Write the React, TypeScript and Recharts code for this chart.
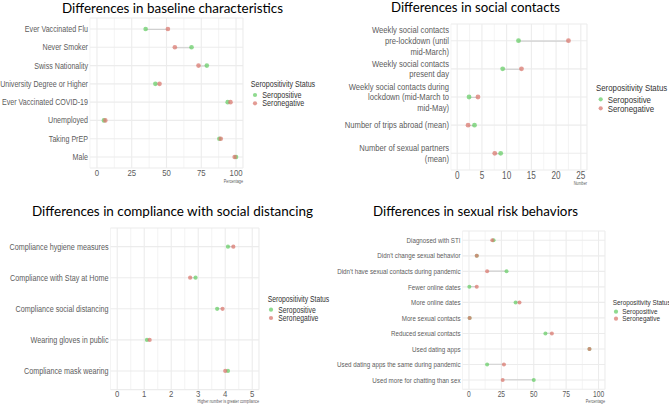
import React from 'react';
import { ComposedChart, Bar, Line, XAxis, YAxis, CartesianGrid } from 'recharts';

// --- data -------------------------------------------------------------

const baselineLabels = [
  'Ever Vaccinated Flu',
  'Never Smoker',
  'Swiss Nationality',
  'University Degree or Higher',
  'Ever Vaccinated COVID-19',
  'Unemployed',
  'Taking PrEP',
  'Male',
];
const baselinePos = [35, 68, 79, 42, 94, 5, 88, 100];
const baselineNeg = [51, 56, 73, 45, 96, 6, 89, 99];

const socialLabels = [
  'Weekly social contacts\npre-lockdown (until\nmid-March)',
  'Weekly social contacts\npresent day',
  'Weekly social contacts during\nlockdown (mid-March to\nmid-May)',
  'Number of trips abroad (mean)',
  'Number of sexual partners\n(mean)',
];
const socialPos = [12.4, 9.2, 2.4, 3.5, 8.8];
const socialNeg = [22.5, 13, 4.2, 2.2, 7.6];

const complianceLabels = [
  'Compliance hygiene measures',
  'Compliance with Stay at Home',
  'Compliance social distancing',
  'Wearing gloves in public',
  'Compliance mask wearing',
];
const compliancePos = [4.1, 2.9, 3.7, 1.1, 4.1];
const complianceNeg = [4.3, 2.7, 3.9, 1.2, 4.0];

const sexualLabels = [
  'Diagnosed with STI',
  "Didn't change sexual behavior",
  "Didn't have sexual contacts during pandemic",
  'Fewer online dates',
  'More online dates',
  'More sexual contacts',
  'Reduced sexual contacts',
  'Used dating apps',
  'Used dating apps the same during pandemic',
  'Used more for chatting than sex',
];
const sexualPos = [19, 6, 29, 0.3, 36, 0.5, 59, 93, 14, 50];
const sexualNeg = [18, 6, 14, 6, 39, 0.5, 64, 93, 27, 26];

// major ticks at even index, minor grid lines in between
const percentTicks = [0, 12.5, 25, 37.5, 50, 62.5, 75, 87.5, 100];
const numberTicks = [0, 2.5, 5, 7.5, 10, 12.5, 15, 17.5, 20, 22.5, 25];
const scoreTicks = [0, 0.5, 1, 1.5, 2, 2.5, 3, 3.5, 4, 4.5, 5];

const seriesNames = ['Seropositive', 'Seronegative'];

// --- style ------------------------------------------------------------

const GREEN = '#6acd6a';
const RED = '#d97a70';
const DOT_OPACITY = 0.75;
const GRID = '#ececec';
const SEGMENT = '#d0d0d0';
const AXIS_TEXT = '#5c5c5c';
// no narrow face installed: Arial-metric font squeezed horizontally
const SANS = "'Liberation Sans', Arimo, Arial, sans-serif";
const SQUEEZE = 0.82;
const TITLE_FONT = "Lato, 'Open Sans', sans-serif";

interface Box { left: number; top: number; width: number; height: number }
interface Plot { left: number; right: number; top: number; bottom: number }

interface PanelSpec {
  key: string;
  title: string;
  labels: string[];
  pos: number[];
  neg: number[];
  ticks: number[];
  domain: [number, number];
  box: Box;
  plot: Plot;
  pad: number;
  yFont: number;
  yLine: number;
  xFont: number;
  xDy: number;
  dotR: number;
  titleAt: { x: number; w: number; baseline: number };
  axisTitle: { text: string; y: number };
  legend: { x: number; y: number; dotX: number; textX: number; rows: number[]; size: number };
}

const panels: PanelSpec[] = [
  {
    key: 'baseline',
    title: 'Differences in baseline characteristics',
    labels: baselineLabels,
    pos: baselinePos,
    neg: baselineNeg,
    ticks: percentTicks,
    domain: [-5, 105],
    box: { left: 0, top: 0, width: 335, height: 200 },
    plot: { left: 90, right: 243, top: 18, bottom: 168 },
    pad: 1.9,
    yFont: 8.7,
    yLine: 10,
    xFont: 9.5,
    xDy: 5,
    dotR: 2.3,
    titleAt: { x: 62, w: 221, baseline: 12.5 },
    axisTitle: { text: 'Percentage', y: 181.5 },
    legend: { x: 250.7, y: 84.3, dotX: 255, textX: 262.3, rows: [95, 103.3], size: 8.7 },
  },
  {
    key: 'social',
    title: 'Differences in social contacts',
    labels: socialLabels,
    pos: socialPos,
    neg: socialNeg,
    ticks: numberTicks,
    domain: [-1.25, 26.25],
    box: { left: 335, top: 0, width: 334, height: 200 },
    plot: { left: 451, right: 587, top: 24, bottom: 170 },
    pad: 2.6,
    yFont: 9.3,
    yLine: 10.7,
    xFont: 10,
    xDy: 5,
    dotR: 2.4,
    titleAt: { x: 391, w: 169, baseline: 11.7 },
    axisTitle: { text: 'Number', y: 183.3 },
    legend: { x: 596, y: 87.3, dotX: 600.7, textX: 607.7, rows: [99.3, 108.3], size: 9.6 },
  },
  {
    key: 'compliance',
    title: 'Differences in compliance with social distancing',
    labels: complianceLabels,
    pos: compliancePos,
    neg: complianceNeg,
    ticks: scoreTicks,
    domain: [-0.25, 5.25],
    box: { left: 0, top: 200, width: 335, height: 204 },
    plot: { left: 110.5, right: 259, top: 228, bottom: 389.6 },
    pad: 3.1,
    yFont: 8.8,
    yLine: 10,
    xFont: 9.5,
    xDy: 3.7,
    dotR: 2.1,
    titleAt: { x: 32, w: 281, baseline: 215.5 },
    axisTitle: { text: 'Higher number is greater compliance', y: 401.3 },
    legend: { x: 267.7, y: 299, dotX: 271, textX: 278.3, rows: [309.7, 318], size: 8.3 },
  },
  {
    key: 'sexual',
    title: 'Differences in sexual risk behaviors',
    labels: sexualLabels,
    pos: sexualPos,
    neg: sexualNeg,
    ticks: percentTicks,
    domain: [-5, 105],
    box: { left: 335, top: 200, width: 334, height: 204 },
    plot: { left: 462.5, right: 605, top: 231, bottom: 389.3 },
    pad: 1.55,
    yFont: 7.6,
    yLine: 9,
    xFont: 8.2,
    xDy: 4.7,
    dotR: 2,
    titleAt: { x: 373, w: 205, baseline: 216 },
    axisTitle: { text: 'Percentage', y: 401 },
    legend: { x: 612.7, y: 302.7, dotX: 616, textX: 622.3, rows: [311.7, 318.7], size: 7.8 },
  },
];

// --- text helpers -----------------------------------------------------

interface NarrowProps {
  x: number;
  y: number; // vertical centre of the first line
  size: number;
  anchor?: 'start' | 'middle' | 'end';
  fill?: string;
  lines: string[];
  lineHeight?: number;
}

function NarrowText({ x, y, size, anchor = 'start', fill = AXIS_TEXT, lines, lineHeight = size * 1.15 }: NarrowProps) {
  return (
    <g transform={`translate(${x},${y}) scale(${SQUEEZE},1)`}>
      <text x={0} y={0} textAnchor={anchor} fontSize={size} fontFamily={SANS} fill={fill}>
        {lines.map((l, i) => (
          <tspan key={i} x={0} dy={i === 0 ? size * 0.35 : lineHeight}>
            {l}
          </tspan>
        ))}
      </text>
    </g>
  );
}

function makeYTick(fontSize: number, lineHeight: number) {
  return (props: any) => {
    const { x, y, payload } = props;
    const lines = String(payload.value).split('\n');
    const top = y - ((lines.length - 1) * lineHeight) / 2;
    return <NarrowText x={x} y={top} size={fontSize} anchor="end" lines={lines} lineHeight={lineHeight} />;
  };
}

function makeXTick(fontSize: number, dy: number) {
  return (props: any) => {
    const { x, y, payload, index } = props;
    if (index % 2 !== 0) return <g />;
    return <NarrowText x={x} y={y + dy} size={fontSize} anchor="middle" lines={[String(payload.value)]} />;
  };
}

const verticalLine = (p: any) => (
  <line
    key={p.key}
    x1={p.x1}
    y1={p.y1}
    x2={p.x2}
    y2={p.y2}
    stroke={GRID}
    strokeWidth={p.index % 2 ? 0.6 : 1.1}
  />
);

// --- panel ------------------------------------------------------------

function DumbbellPanel({ spec }: { spec: PanelSpec }) {
  const { box, plot } = spec;
  const rows = spec.labels.map((label, i) => ({
    label,
    pos: spec.pos[i],
    neg: spec.neg[i],
  }));

  return (
    <div style={{ position: 'absolute', left: box.left, top: box.top, width: box.width, height: box.height }}>
      <ComposedChart
        layout="vertical"
        width={box.width}
        height={box.height}
        data={rows}
        margin={{ top: plot.top - box.top, right: box.left + box.width - plot.right, bottom: 0, left: 0 }}
      >
        <CartesianGrid stroke={GRID} strokeWidth={1.1} vertical={verticalLine} />
        <XAxis
          type="number"
          domain={spec.domain}
          ticks={spec.ticks}
          allowDataOverflow
          interval={0}
          height={box.top + box.height - plot.bottom}
          axisLine={false}
          tickLine={false}
          tickSize={0}
          tickMargin={0}
          tick={makeXTick(spec.xFont, spec.xDy)}
        />
        <YAxis
          type="category"
          dataKey="label"
          width={plot.left - box.left}
          axisLine={false}
          tickLine={false}
          tickSize={0}
          tickMargin={2}
          interval={0}
          padding={{ top: spec.pad, bottom: spec.pad }}
          tick={makeYTick(spec.yFont, spec.yLine)}
        />
        <Bar
          dataKey={(d: any) => [Math.min(d.pos, d.neg), Math.max(d.pos, d.neg)]}
          barSize={1.1}
          fill={SEGMENT}
          isAnimationActive={false}
        />
        <Line
          dataKey="pos"
          stroke="none"
          dot={{ r: spec.dotR, fill: GREEN, stroke: 'none', fillOpacity: DOT_OPACITY }}
          activeDot={false}
          isAnimationActive={false}
        />
        <Line
          dataKey="neg"
          stroke="none"
          dot={{ r: spec.dotR, fill: RED, stroke: 'none', fillOpacity: DOT_OPACITY }}
          activeDot={false}
          isAnimationActive={false}
        />
      </ComposedChart>
    </div>
  );
}

function Overlay() {
  return (
    <svg
      width={669}
      height={404}
      style={{ position: 'absolute', left: 0, top: 0, pointerEvents: 'none' }}
    >
      {panels.map((p) => (
        <g key={p.key}>
          <text
            x={p.titleAt.x}
            y={p.titleAt.baseline}
            fontSize={14}
            fontFamily={TITLE_FONT}
            fill="#000"
            textLength={p.titleAt.w}
            lengthAdjust="spacingAndGlyphs"
          >
            {p.title}
          </text>
          <NarrowText x={p.plot.right} y={p.axisTitle.y} size={4.6} anchor="end" lines={[p.axisTitle.text]} />
          <NarrowText x={p.legend.x} y={p.legend.y} size={p.legend.size} fill="#333" lines={['Seropositivity Status']} />
          {seriesNames.map((name, i) => (
            <g key={name}>
              <circle
                cx={p.legend.dotX}
                cy={p.legend.rows[i]}
                r={2.1}
                fill={i === 0 ? GREEN : RED}
                fillOpacity={DOT_OPACITY}
              />
              <NarrowText x={p.legend.textX} y={p.legend.rows[i]} size={p.legend.size} fill="#333" lines={[name]} />
            </g>
          ))}
        </g>
      ))}
    </svg>
  );
}

export default function App() {
  return (
    <div
      style={{
        position: 'absolute',
        left: 0,
        top: 0,
        width: 669,
        height: 404,
        background: '#fff',
        overflow: 'hidden',
      }}
    >
      {panels.map((p) => (
        <DumbbellPanel key={p.key} spec={p} />
      ))}
      <Overlay />
    </div>
  );
}
